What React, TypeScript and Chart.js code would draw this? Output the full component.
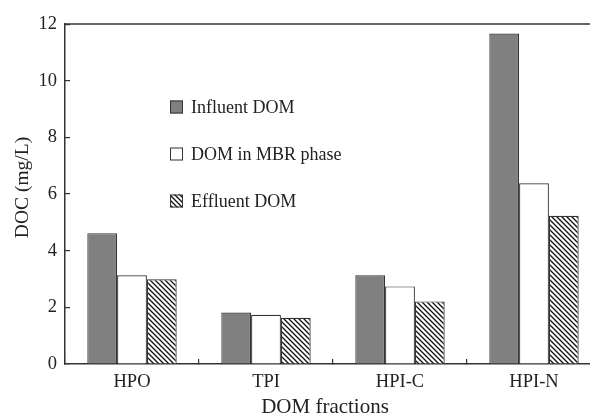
import React, { useEffect, useRef } from "react";
import { Chart, registerables } from "chart.js";

Chart.register(...registerables);

const categories = ["HPO", "TPI", "HPI-C", "HPI-N"];
const influentDOM = [4.62, 1.82, 3.13, 11.67];
const mbrDOM = [3.13, 1.74, 2.74, 6.38];
const effluentDOM = [2.99, 1.63, 2.21, 5.23];
const seriesLabels = ["Influent DOM", "DOM in MBR phase", "Effluent DOM"];
const yTicks = [0, 2, 4, 6, 8, 10, 12];
const xTitle = "DOM fractions";
const yTitle = "DOC (mg/L)";

const FONT = "'Liberation Serif', 'DejaVu Serif', serif";
const AXIS = "#333333";

function makeHatch(): CanvasPattern | string {
  const c = document.createElement("canvas");
  const s = 5;
  c.width = s;
  c.height = s;
  const ctx = c.getContext("2d");
  if (!ctx) return "#ffffff";
  ctx.fillStyle = "#ffffff";
  ctx.fillRect(0, 0, s, s);
  ctx.strokeStyle = "#111111";
  ctx.lineWidth = 1.3;
  ctx.beginPath();
  ctx.moveTo(-1, -1);
  ctx.lineTo(s + 1, s + 1);
  ctx.moveTo(-1, s - 1);
  ctx.lineTo(1, s + 1);
  ctx.moveTo(s - 1, -1);
  ctx.lineTo(s + 1, 1);
  ctx.stroke();
  const p = ctx.createPattern(c, "repeat");
  return p || "#ffffff";
}

const decorPlugin = {
  id: "decor",
  afterDraw(chart: any) {
    const { ctx, chartArea } = chart;
    ctx.save();
    ctx.strokeStyle = AXIS;
    ctx.lineWidth = 1.5;
    ctx.beginPath();
    ctx.moveTo(chartArea.left, chartArea.top);
    ctx.lineTo(chartArea.right, chartArea.top);
    ctx.stroke();

    chart.data.datasets.forEach((ds: any, i: number) => {
      const yc = 107 + i * 47;
      ctx.fillStyle = ds.backgroundColor;
      ctx.fillRect(170, yc - 6.5, 13, 13);
      ctx.strokeStyle = "#333333";
      ctx.lineWidth = 1;
      ctx.strokeRect(170.5, yc - 6, 12, 12);
      ctx.fillStyle = "#222222";
      ctx.font = `18px ${FONT}`;
      ctx.textAlign = "left";
      ctx.textBaseline = "middle";
      ctx.fillText(ds.label, 191, yc + 1);
    });

    ctx.fillStyle = "#222222";
    ctx.font = `21px ${FONT}`;
    ctx.textAlign = "center";
    ctx.textBaseline = "alphabetic";
    ctx.fillText(xTitle, 325, 413);

    ctx.save();
    ctx.translate(23, 187.5);
    ctx.rotate(-Math.PI / 2);
    ctx.font = `19.5px ${FONT}`;
    ctx.textAlign = "center";
    ctx.textBaseline = "middle";
    ctx.fillText(yTitle, 0, 0);
    ctx.restore();
    ctx.restore();
  },
};

export default function App() {
  const ref = useRef<HTMLCanvasElement>(null);

  useEffect(() => {
    if (!ref.current) return;
    const hatch = makeHatch();
    const chart = new Chart(ref.current, {
      type: "bar",
      data: {
        labels: categories,
        datasets: [
          {
            label: seriesLabels[0],
            data: influentDOM,
            backgroundColor: "#808080",
            borderColor: "#333333",
            borderWidth: 1.2,
          },
          {
            label: seriesLabels[1],
            data: mbrDOM,
            backgroundColor: "#ffffff",
            borderColor: "#333333",
            borderWidth: 1.2,
          },
          {
            label: seriesLabels[2],
            data: effluentDOM,
            backgroundColor: hatch as any,
            borderColor: "#333333",
            borderWidth: 1.2,
          },
        ],
      },
      options: {
        responsive: false,
        animation: false,
        layout: { padding: { top: 20, left: 0, right: 0, bottom: 0 } },
        datasets: {
          bar: { categoryPercentage: 0.667, barPercentage: 1.0 },
        },
        plugins: {
          legend: { display: false },
          tooltip: { enabled: false },
          title: { display: false },
        },
        scales: {
          x: {
            grid: {
              display: true,
              drawOnChartArea: false,
              drawTicks: true,
              tickLength: -5,
              color: AXIS,
              lineWidth: 1.2,
              offset: true,
            },
            border: { display: true, color: AXIS, width: 1.5 },
            ticks: {
              color: "#222222",
              font: { family: FONT, size: 18.5 },
              padding: 12,
              maxRotation: 0,
            },
            afterFit: (s: any) => {
              s.height = 52;
            },
          },
          y: {
            min: 0,
            max: 12,
            afterBuildTicks: (s: any) => {
              s.ticks = yTicks.map((v) => ({ value: v }));
            },
            grid: {
              display: true,
              drawOnChartArea: false,
              drawTicks: true,
              tickLength: -5,
              color: AXIS,
              lineWidth: 1.2,
            },
            border: { display: true, color: AXIS, width: 1.5 },
            ticks: {
              color: "#222222",
              font: { family: FONT, size: 18.5 },
              padding: 13,
            },
            afterFit: (s: any) => {
              s.width = 65;
            },
          },
        },
      },
      plugins: [decorPlugin],
    });
    return () => chart.destroy();
  }, []);

  return (
    <div
      style={{
        position: "fixed",
        left: 0,
        top: 0,
        width: 590,
        height: 416,
        overflow: "hidden",
        background: "#ffffff",
      }}
    >
      <canvas ref={ref} width={601} height={416} style={{ display: "block" }} />
    </div>
  );
}
